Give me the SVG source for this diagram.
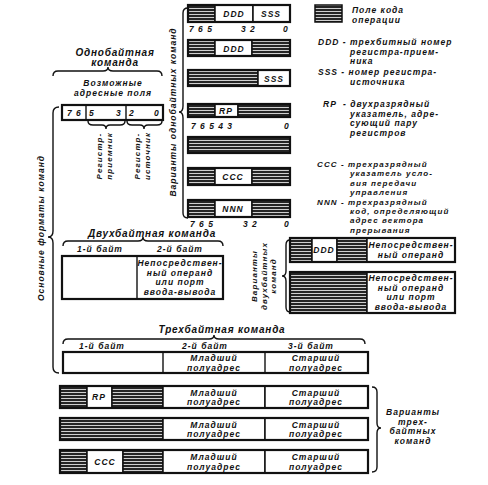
<svg xmlns="http://www.w3.org/2000/svg" width="488" height="485" viewBox="0 0 488 485">
<defs>
<pattern id="hatch" width="4" height="3" patternUnits="userSpaceOnUse">
<rect width="4" height="3" fill="#cfcfcf"/>
<line x1="0" y1="1" x2="4" y2="1" stroke="#111" stroke-width="1.8"/>
</pattern>
</defs>
<style>
text{font-family:"Liberation Sans","DejaVu Sans",sans-serif;font-style:italic;font-weight:bold;font-size:8.5px;fill:#111;letter-spacing:1px}
.c{text-anchor:middle}
.big{font-size:10px;letter-spacing:0.8px}
.sm{font-size:8px;letter-spacing:1.1px}
.h{fill:url(#hatch);stroke:#111;stroke-width:1.5}
.w{fill:#fff;stroke:#111;stroke-width:1.5}
.box{fill:none;stroke:#111;stroke-width:2.2}
.ln{fill:none;stroke:#111;stroke-width:1.4}
</style>
<rect width="488" height="485" fill="#fff"/>

<g id="connectors">
<path class="ln" d="M53,76 Q53,71 58,71 L103,71 Q108,71 108,67 Q108,71 113,71 L157,71 Q162,71 162,76"/>
<path class="ln" d="M88,121 Q88,125 93,125 L102,125 Q106,125 106,129 Q106,125 110,125 L120,125 Q125,125 125,121"/>
<path class="ln" d="M127,121 Q127,125 132,125 L140,125 Q144,125 144,129 Q144,125 148,125 L157,125 Q162,125 162,121"/>
<path class="ln" d="M59,107 Q53,107 53,113 L53,231 Q53,237 48,237 Q53,237 53,243 L53,367 Q53,373 59,373"/>
<path class="ln" d="M188,8 Q183,8 183,13 L183,106 Q183,112 179,112 Q183,112 183,118 L183,213 Q183,218 188,218"/>
<path class="ln" d="M63,246 Q63,241 68,241 L138,241 Q143,241 143,237 Q143,241 148,241 L218,241 Q223,241 223,246"/>
<path class="ln" d="M290,240 Q286,240 286,245 L286,271 Q286,276 282,276 Q286,276 286,281 L286,307 Q286,312 290,312"/>
<path class="ln" d="M63,344 Q63,339 68,339 L209,339 Q214,339 214,335 Q214,339 219,339 L360,339 Q365,339 365,344"/>
<path class="ln" d="M372,387 Q377,387 377,392 L377,423 Q377,428 381,428 Q377,428 377,433 L377,467 Q377,472 372,472"/>
</g>

<g id="legend">
<rect class="h" x="315" y="5" width="27" height="17"/>
<text x="352" y="13">Поле кода</text>
<text x="352" y="23">операции</text>
<text x="318" y="45">DDD - трехбитный номер</text>
<text x="350" y="54.5">регистра-прием-</text>
<text x="350" y="64">ника</text>
<text x="318" y="75">SSS - номер регистра-</text>
<text x="350" y="84.5">источника</text>
<text x="323" y="107">RP</text>
<text x="343" y="107">- двухразрядный</text>
<text x="350" y="116.5">указатель, адре-</text>
<text x="350" y="126">сующий пару</text>
<text x="350" y="135.5">регистров</text>
<text class="sm" x="317" y="167">CCC - трехразрядный</text>
<text class="sm" x="350" y="176.4">указатель усло-</text>
<text class="sm" x="350" y="185.8">вия передачи</text>
<text class="sm" x="350" y="195.2">управления</text>
<text class="sm" x="317" y="204.6">NNN - трехразрядный</text>
<text class="sm" x="350" y="214">код, определяющий</text>
<text class="sm" x="350" y="223.4">адрес вектора</text>
<text class="sm" x="350" y="232.8">прерывания</text>
</g>

<g id="one-byte">
<text class="c big" x="115" y="56">Однобайтная</text>
<text class="c big" x="115" y="66">команда</text>
<text class="c" x="113" y="85.5">Возможные</text>
<text class="c" x="113" y="96">адресные поля</text>
<rect class="box" x="62" y="105" width="101" height="15"/>
<line class="ln" x1="86" y1="105" x2="86" y2="120" stroke-width="2"/>
<line class="ln" x1="126" y1="105" x2="126" y2="120" stroke-width="2"/>
<text x="67" y="116">7 6</text>
<text x="89" y="116">5</text>
<text x="116" y="116">3</text>
<text x="129" y="116">2</text>
<text x="154" y="116">0</text>
<text class="c sm" transform="translate(102,156) rotate(-90)">Регистр-</text>
<text class="c sm" transform="translate(111.5,156) rotate(-90)">приемник</text>
<text class="c sm" transform="translate(140,156) rotate(-90)">Регистр-</text>
<text class="c sm" transform="translate(149.5,156) rotate(-90)">источник</text>
</g>

<g id="main-label">
<text class="c" transform="translate(44,228) rotate(-90)">Основные форматы команд</text>
<text class="c" transform="translate(176,112) rotate(-90)">Варианты однобайтных команд</text>
</g>

<g id="ob-row1">
<rect class="h" x="188" y="5" width="27" height="17"/>
<rect class="w" x="215" y="5" width="38" height="17"/>
<rect class="w" x="253" y="5" width="37" height="17"/>
<rect class="box" x="188" y="5" width="102" height="17"/>
<text class="c" x="234" y="17">DDD</text>
<text class="c" x="271" y="17">SSS</text>
<text x="189" y="32">7 6 5</text>
<text x="241" y="32">3 2</text>
<text x="283" y="32">0</text>
</g>
<g id="ob-row2">
<rect class="h" x="188" y="40" width="27" height="16"/>
<rect class="w" x="215" y="40" width="37" height="16"/>
<rect class="h" x="252" y="40" width="38" height="16"/>
<rect class="box" x="188" y="40" width="102" height="16"/>
<text class="c" x="234" y="51.5">DDD</text>
</g>
<g id="ob-row3">
<rect class="h" x="188" y="70" width="70" height="16"/>
<rect class="w" x="258" y="70" width="32" height="16"/>
<rect class="box" x="188" y="70" width="102" height="16"/>
<text class="c" x="274" y="81.5">SSS</text>
</g>
<g id="ob-row4">
<rect class="h" x="188" y="104" width="27" height="13"/>
<rect class="w" x="215" y="104" width="23" height="13"/>
<rect class="h" x="238" y="104" width="52" height="13"/>
<rect class="box" x="188" y="104" width="102" height="13"/>
<text class="c" x="226" y="114">RP</text>
<text x="191" y="129">7 6 5 4 3</text>
<text x="284" y="129">0</text>
</g>
<g id="ob-row5">
<rect class="h" x="188" y="137" width="102" height="16"/>
<rect class="box" x="188" y="137" width="102" height="16"/>
</g>
<g id="ob-row6">
<rect class="h" x="188" y="168" width="27" height="17"/>
<rect class="w" x="215" y="168" width="37" height="17"/>
<rect class="h" x="252" y="168" width="38" height="17"/>
<rect class="box" x="188" y="168" width="102" height="17"/>
<text class="c" x="233" y="180">CCC</text>
</g>
<g id="ob-row7">
<rect class="h" x="188" y="200" width="27" height="17"/>
<rect class="w" x="215" y="200" width="37" height="17"/>
<rect class="h" x="252" y="200" width="38" height="17"/>
<rect class="box" x="188" y="200" width="102" height="17"/>
<text class="c" x="233" y="212">NNN</text>
<text x="190" y="227">7 6 5</text>
<text x="243" y="227">3 2</text>
<text x="284" y="227">0</text>
</g>

<g id="two-byte">
<text class="c big" x="152" y="237">Двухбайтная команда</text>
<text class="c" x="100" y="252">1-й байт</text>
<text class="c" x="180" y="252">2-й байт</text>
<rect class="box" x="62" y="256" width="161" height="43"/>
<line class="ln" x1="137" y1="256" x2="137" y2="299" stroke-width="2"/>
<text class="c" x="180" y="266">Непосредствен-</text>
<text class="c" x="180" y="275.5">ный операнд</text>
<text class="c" x="180" y="285">или порт</text>
<text class="c" x="180" y="294.5">ввода-вывода</text>
</g>

<g id="two-byte-label">
<text class="c sm" transform="translate(257,276) rotate(-90)">Варианты</text>
<text class="c sm" transform="translate(266.5,276) rotate(-90)">двухбайтных</text>
<text class="c sm" transform="translate(276,276) rotate(-90)">команд</text>
</g>
<g id="tb-var1">
<rect class="h" x="290" y="238" width="22" height="24"/>
<rect class="w" x="312" y="238" width="25" height="24"/>
<rect class="h" x="337" y="238" width="30" height="24"/>
<rect class="w" x="367" y="238" width="88" height="24"/>
<rect class="box" x="290" y="238" width="165" height="24"/>
<text class="c" x="324" y="253">DDD</text>
<text class="c" x="411" y="248">Непосредствен-</text>
<text class="c" x="411" y="257.5">ный операнд</text>
</g>
<g id="tb-var2">
<rect class="h" x="290" y="272" width="77" height="41"/>
<rect class="w" x="367" y="272" width="88" height="41"/>
<rect class="box" x="290" y="272" width="165" height="41"/>
<text class="c" x="411" y="281">Непосредствен-</text>
<text class="c" x="411" y="290.5">ный операнд</text>
<text class="c" x="411" y="300">или порт</text>
<text class="c" x="411" y="309.5">ввода-вывода</text>
</g>

<g id="three-byte">
<text class="c big" x="222" y="333">Трехбайтная команда</text>
<text class="c" x="102" y="349">1-й байт</text>
<text class="c" x="205" y="349">2-й байт</text>
<text class="c" x="311" y="349">3-й байт</text>
<rect class="box" x="63" y="352" width="305" height="21"/>
<line class="ln" x1="163" y1="352" x2="163" y2="373" stroke-width="2"/>
<line class="ln" x1="265" y1="352" x2="265" y2="373" stroke-width="2"/>
<text class="c" x="214" y="361">Младший</text>
<text class="c" x="214" y="370.5">полуадрес</text>
<text class="c" x="316" y="361">Старший</text>
<text class="c" x="316" y="370.5">полуадрес</text>
</g>
<g id="thb-var1">
<rect class="h" x="60" y="386" width="27" height="22"/>
<rect class="w" x="87" y="386" width="25" height="22"/>
<rect class="h" x="112" y="386" width="51" height="22"/>
<rect class="w" x="163" y="386" width="102" height="22"/>
<rect class="w" x="265" y="386" width="103" height="22"/>
<rect class="box" x="60" y="386" width="308" height="22"/>
<text class="c" x="99" y="400">RP</text>
<text class="c" x="214" y="395.5">Младший</text>
<text class="c" x="214" y="405">полуадрес</text>
<text class="c" x="316" y="395.5">Старший</text>
<text class="c" x="316" y="405">полуадрес</text>
</g>
<g id="thb-var2">
<rect class="h" x="60" y="418" width="103" height="22"/>
<rect class="w" x="163" y="418" width="102" height="22"/>
<rect class="w" x="265" y="418" width="103" height="22"/>
<rect class="box" x="60" y="418" width="308" height="22"/>
<text class="c" x="214" y="427.5">Младший</text>
<text class="c" x="214" y="437">полуадрес</text>
<text class="c" x="316" y="427.5">Старший</text>
<text class="c" x="316" y="437">полуадрес</text>
</g>
<g id="thb-var3">
<rect class="h" x="60" y="450" width="27" height="23"/>
<rect class="w" x="87" y="450" width="36" height="23"/>
<rect class="h" x="123" y="450" width="40" height="23"/>
<rect class="w" x="163" y="450" width="102" height="23"/>
<rect class="w" x="265" y="450" width="103" height="23"/>
<rect class="box" x="60" y="450" width="308" height="23"/>
<text class="c" x="105" y="465">CCC</text>
<text class="c" x="214" y="460">Младший</text>
<text class="c" x="214" y="469.5">полуадрес</text>
<text class="c" x="316" y="460">Старший</text>
<text class="c" x="316" y="469.5">полуадрес</text>
</g>
<g id="three-byte-label">
<text class="c" x="413" y="415">Варианты</text>
<text class="c" x="413" y="424.5">трех-</text>
<text class="c" x="413" y="434">байтных</text>
<text class="c" x="413" y="443.5">команд</text>
</g>
</svg>
